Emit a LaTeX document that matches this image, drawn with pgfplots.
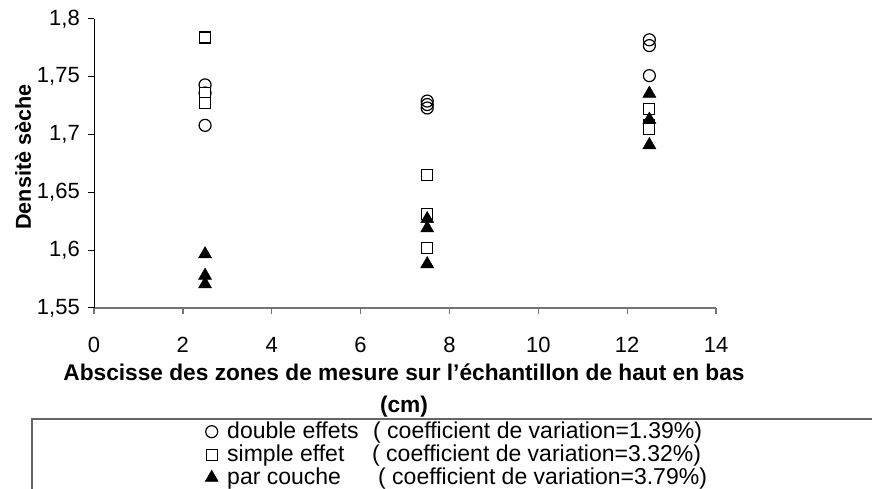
\documentclass[border=0pt]{standalone}
\usepackage{pgfplots}
\pgfplotsset{compat=1.18}
\usepackage{fontspec}
\setmainfont{Liberation Sans}
\begin{document}
\begin{tikzpicture}[x=1pt,y=1pt]
\useasboundingbox (0,0) rectangle (872,489);
\begin{axis}[
  at={(94pt,181pt)}, anchor=south west,
  scale only axis, width=622pt, height=289pt,
  xmin=0, xmax=14, ymin=1.55, ymax=1.8,
  xtick={0,2,4,6,8,10,12,14}, ytick={1.55,1.6,1.65,1.7,1.75,1.8},
  axis x line*=bottom, axis y line*=left,
  axis line style={-},
  x axis line style={draw=black!55, line width=1.3pt},
  y axis line style={draw=black, line width=1pt},
  tick align=outside, major tick length=6pt,
  xtick style={draw=black!55, line width=1.3pt},
  ytick style={draw=black, line width=1pt},
  xtick pos=left, ytick pos=left,
  /pgf/number format/assume math mode=true,
  /pgf/number format/use comma,
  xticklabel style={font=\fontsize{22}{22}\selectfont, anchor=north, inner sep=0pt, text height=16pt, text depth=0pt, yshift=-22pt},
  yticklabel style={font=\fontsize{22}{22}\selectfont, anchor=east, inner sep=0pt, xshift=-8pt},
  clip=false,
  legend image code/.code={\path (-6pt,0pt) (6pt,0pt); \draw[#1] plot coordinates {(0pt,3pt)};},
  legend cell align=left,
  legend style={at={(axis description cs:0.1785,-0.4014)}, anchor=north west,
    draw=none, fill=none, inner sep=0pt, column sep=9pt, row sep=2pt,
    font=\fontsize{23}{21}\selectfont,
    nodes={inner sep=0pt, text height=14pt, text depth=7pt}},
]
\addplot[only marks, mark=o, mark size=6pt, mark options={line width=1.2pt, draw=black, fill=white}] coordinates {
 (2.5,1.743) (2.5,1.736) (2.5,1.708)
 (7.5,1.729) (7.5,1.726) (7.5,1.723)
 (12.5,1.782) (12.5,1.777) (12.5,1.751)};
\addlegendentry{\makebox[146pt][l]{double effets}( coefficient de variation=1.39\%)}
\addplot[only marks, mark=square*, mark size=5.5pt, mark options={line width=1.2pt, draw=black, fill=white}] coordinates {
 (2.5,1.784) (2.5,1.736) (2.5,1.7275)
 (7.5,1.665) (7.5,1.631) (7.5,1.602)
 (12.5,1.722) (12.5,1.708) (12.5,1.7045)};
\addlegendentry{\makebox[145pt][l]{simple effet}( coefficient de variation=3.32\%)}
\addplot[only marks, mark=triangle*, mark size=7.5pt, mark options={line width=0.5pt, draw=black, fill=black}] coordinates {
 (2.5,1.5966) (2.5,1.578) (2.5,1.5706)
 (7.5,1.627) (7.5,1.619) (7.5,1.588)
 (12.5,1.7355) (12.5,1.713) (12.5,1.691)};
\addlegendentry{\makebox[151pt][l]{par couche}( coefficient de variation=3.79\%)}
\end{axis}
\node[font=\bfseries\fontsize{22.7}{26}\selectfont, anchor=base] at (404,108) {Abscisse des zones de mesure sur l’échantillon de haut en bas};
\node[font=\bfseries\fontsize{22.7}{26}\selectfont, anchor=base] at (404,76) {(cm)};
\node[rotate=90, font=\bfseries\fontsize{21.6}{24}\selectfont] at (23,332) {Densitè sèche};
\draw[black!60, line width=1.3pt] (32,-20) -- (32,70) -- (900,70);
\end{tikzpicture}
\end{document}
